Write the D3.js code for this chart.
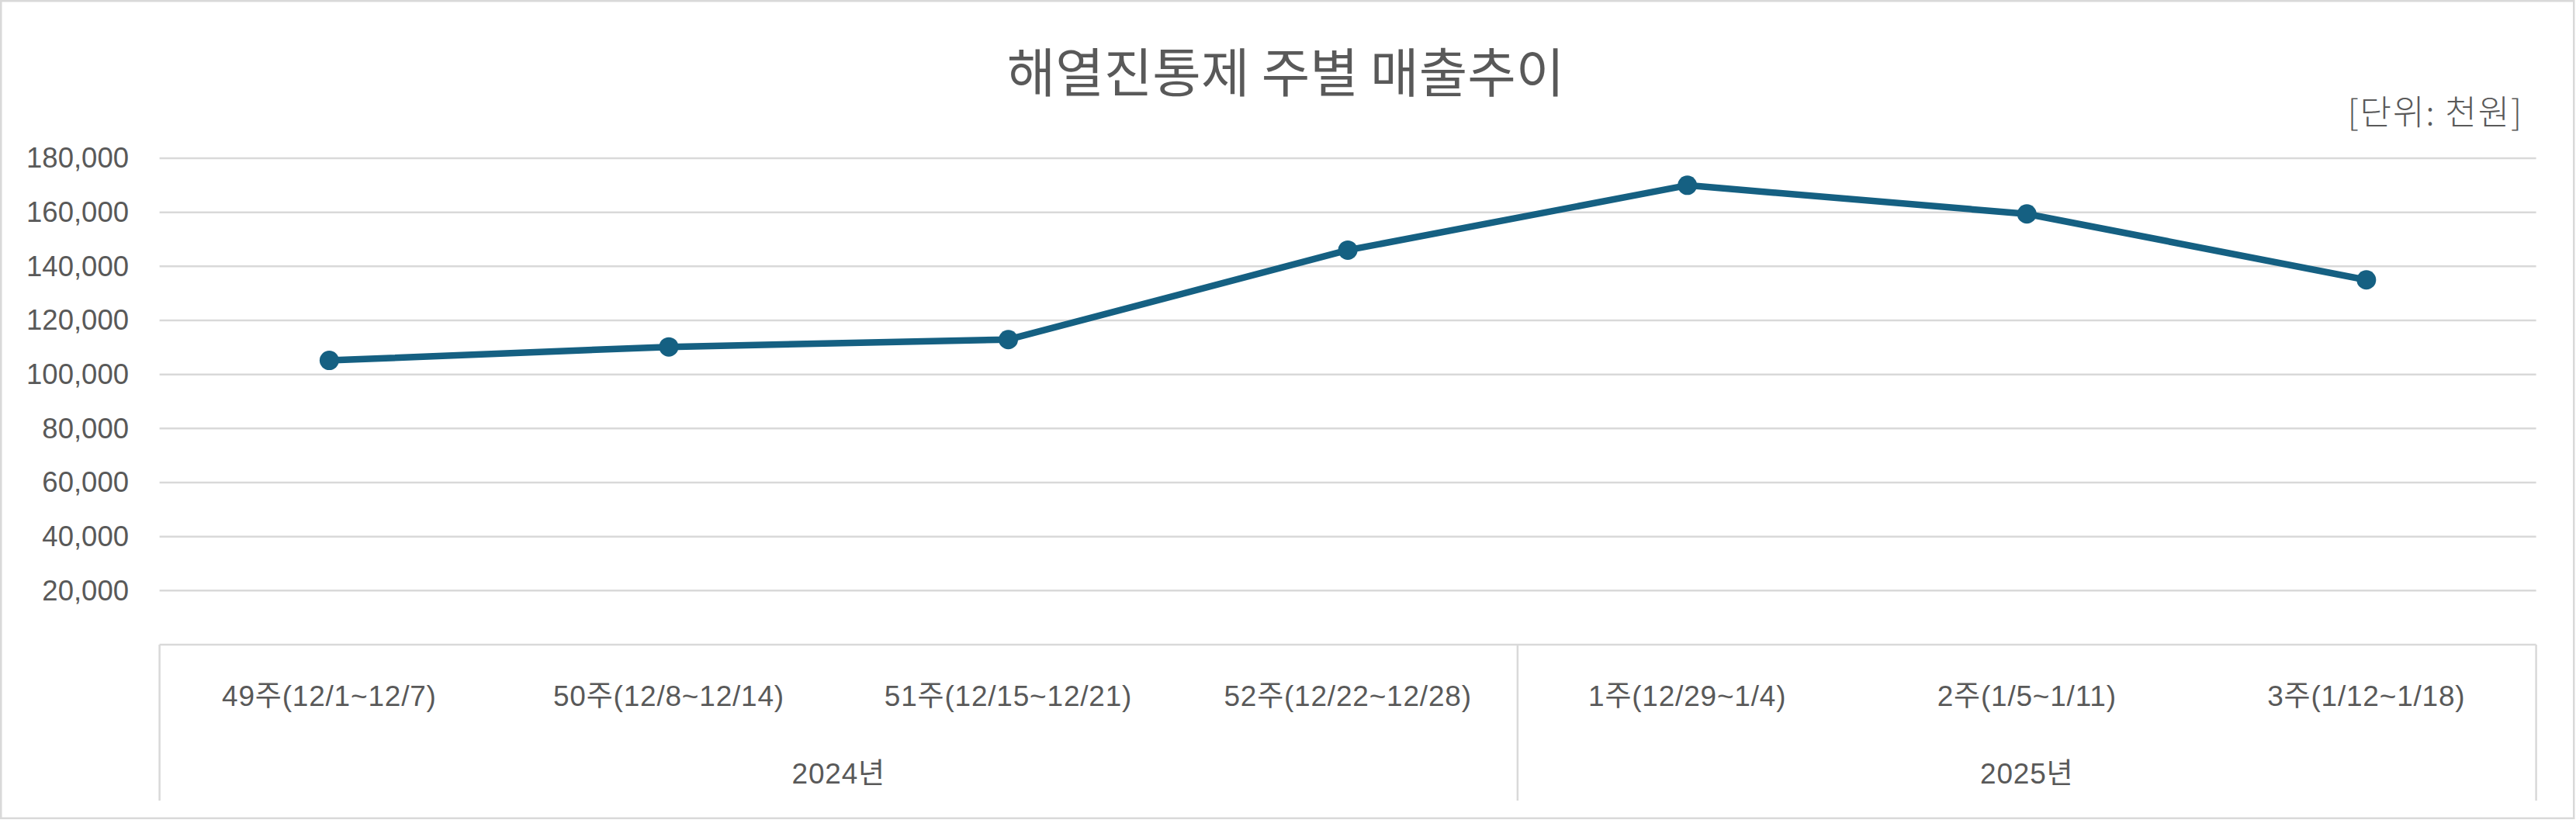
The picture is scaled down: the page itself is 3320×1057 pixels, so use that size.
<!DOCTYPE html>
<html>
<head>
<meta charset="utf-8">
<script src="https://cdn.jsdelivr.net/npm/d3@7"></script>
<style>
  html, body { margin: 0; padding: 0; background: #fff; }
  svg { display: block; }
  text { font-family: "Liberation Sans", Arial, "Noto Sans CJK KR", sans-serif; fill: #595959; }
</style>
</head>
<body>
<div id="chart"></div>
<script>
// ---- data ----
const categories = ["49주(12/1~12/7)", "50주(12/8~12/14)", "51주(12/15~12/21)", "52주(12/22~12/28)",
                    "1주(12/29~1/4)", "2주(1/5~1/11)", "3주(1/12~1/18)"];
const years = ["2024년", "2025년"];
const yearCounts = [4, 3];
const sales = [105200, 110200, 112900, 146000, 170000, 159400, 135000];
const yTicks = [20000, 40000, 60000, 80000, 100000, 120000, 140000, 160000, 180000];
const titleText = "해열진통제 주별 매출추이";
const unitText = "[단위: 천원]";

// ---- layout ----
const W = 3320, H = 1057;
const pLeft = 205.6, pRight = 3268.6, pTop = 204, pBottom = 831, boxBottom = 1032;
const gridColor = "#d9d9d9", lineColor = "#156082";

const svg = d3.select("#chart").append("svg").attr("width", W).attr("height", H);

// outer border
svg.append("rect").attr("x", 1.25).attr("y", 1.25).attr("width", W - 4).attr("height", H - 3.5)
  .attr("fill", "#fff").attr("stroke", gridColor).attr("stroke-width", 2.5);

const x = d3.scaleBand().domain(categories).range([pLeft, pRight]).padding(0);
const y = d3.scaleLinear().domain([0, 180000]).range([pBottom, pTop]);

// gridlines
svg.append("g").selectAll("line").data(yTicks).join("line")
  .attr("x1", pLeft).attr("x2", pRight)
  .attr("y1", d => y(d)).attr("y2", d => y(d))
  .attr("stroke", gridColor).attr("stroke-width", 2.5);

// y axis labels
const yAxis = d3.axisLeft(y).tickValues(yTicks).tickFormat(d3.format(",")).tickSize(0).tickPadding(39.6);
const yg = svg.append("g").attr("transform", `translate(${pLeft},0)`).call(yAxis);
yg.select(".domain").remove();
yg.selectAll("text").attr("font-size", 36.5).attr("fill", "#595959")
  .style("font-family", '"Liberation Sans", Arial, sans-serif');

// x axis (multi-level category box)
const xAxis = d3.axisBottom(x).tickSize(0).tickPadding(0);
const xg = svg.append("g").attr("transform", `translate(0,${pBottom})`).call(xAxis);
xg.select(".domain").remove();
xg.selectAll("text").attr("font-size", 37).attr("dy", null).attr("y", 79).attr("fill", "#595959")
  .attr("letter-spacing", 0.8)
  .style("font-family", '"Liberation Sans", Arial, "Noto Sans CJK KR", sans-serif');

// box lines
svg.append("line").attr("x1", pLeft).attr("x2", pRight).attr("y1", pBottom).attr("y2", pBottom)
  .attr("stroke", gridColor).attr("stroke-width", 2.5);
let acc = 0;
const dividers = [pLeft];
yearCounts.forEach(c => { acc += c; dividers.push(pLeft + x.step() * acc); });
svg.append("g").selectAll("line").data(dividers).join("line")
  .attr("x1", d => d).attr("x2", d => d).attr("y1", pBottom).attr("y2", boxBottom)
  .attr("stroke", gridColor).attr("stroke-width", 2.5);

// year labels
let start = 0;
const yearPos = yearCounts.map(c => { const s = start; start += c; return pLeft + x.step() * (s + c / 2); });
svg.append("g").selectAll("text").data(years).join("text")
  .attr("x", (d, i) => yearPos[i]).attr("y", 1010).attr("text-anchor", "middle")
  .attr("font-size", 37).attr("letter-spacing", 0.8).text(d => d);

// line
const line = d3.line().x((d, i) => x(categories[i]) + x.bandwidth() / 2).y(d => y(d));
svg.append("path").datum(sales).attr("d", line).attr("fill", "none")
  .attr("stroke", lineColor).attr("stroke-width", 8.5).attr("stroke-linejoin", "round");
svg.append("g").selectAll("circle").data(sales).join("circle")
  .attr("cx", (d, i) => x(categories[i]) + x.bandwidth() / 2).attr("cy", d => y(d))
  .attr("r", 12.5).attr("fill", lineColor);

// title
svg.append("text").attr("x", 1657).attr("y", 119).attr("text-anchor", "middle")
  .attr("font-size", 68).style("font-family", '"Noto Sans CJK KR", sans-serif').text(titleText);

// unit
svg.append("text").attr("x", 3252).attr("y", 161).attr("text-anchor", "end")
  .attr("font-size", 44).attr("letter-spacing", 2).style("font-family", '"Noto Sans CJK KR", sans-serif')
  .style("font-weight", 300).text(unitText);
</script>
</body>
</html>
